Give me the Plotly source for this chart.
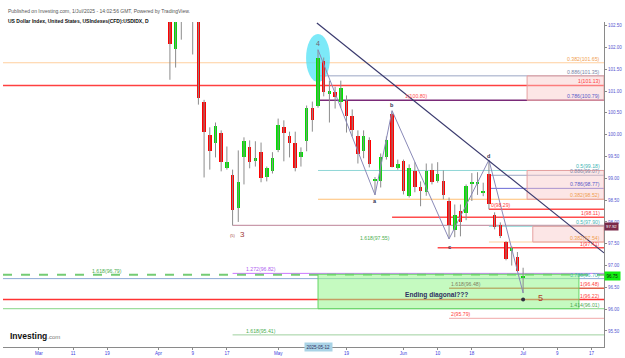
import pandas as pd
import plotly.graph_objects as go

# ---------------- data ----------------
dates = ["2025-04-03","2025-04-04","2025-04-07","2025-04-08","2025-04-09","2025-04-10","2025-04-11",
         "2025-04-14","2025-04-15","2025-04-16","2025-04-17","2025-04-21","2025-04-22","2025-04-23",
         "2025-04-24","2025-04-25","2025-04-28","2025-04-29","2025-04-30","2025-05-01","2025-05-02",
         "2025-05-05","2025-05-06","2025-05-07","2025-05-08","2025-05-09","2025-05-12","2025-05-13",
         "2025-05-14","2025-05-15","2025-05-16","2025-05-19","2025-05-20","2025-05-21","2025-05-22",
         "2025-05-23","2025-05-26","2025-05-27","2025-05-28","2025-05-29","2025-05-30","2025-06-02",
         "2025-06-03","2025-06-04","2025-06-05","2025-06-06","2025-06-09","2025-06-10","2025-06-11",
         "2025-06-12","2025-06-13","2025-06-16","2025-06-17","2025-06-18","2025-06-19","2025-06-20",
         "2025-06-23","2025-06-24","2025-06-25","2025-06-26","2025-06-27","2025-06-30","2025-07-01"]
opens  = [103.80,101.97,103.00,103.25,102.95,102.85,100.76,100.00,99.80,100.05,99.23,99.07,98.31,99.48,
          99.73,99.39,99.60,99.04,99.16,99.64,100.17,99.98,99.82,99.50,99.85,100.62,100.67,101.70,
          100.94,100.97,100.76,100.78,100.42,99.96,99.62,99.87,98.94,98.95,99.50,100.48,99.23,99.39,
          98.59,99.16,98.79,98.68,99.18,98.95,98.95,98.47,97.81,98.24,98.20,98.88,98.88,98.68,
          99.09,98.15,97.92,97.53,97.33,97.19,96.72]
highs  = [103.90,103.30,103.75,103.40,103.40,103.00,100.80,100.17,100.28,100.10,99.73,99.20,99.64,99.94,
          99.87,99.85,99.82,99.27,99.60,100.37,100.33,100.07,100.07,99.71,100.67,100.76,101.95,101.77,
          101.24,101.10,101.24,100.90,100.58,100.10,100.10,99.94,99.03,99.57,99.96,100.55,99.43,99.43,
          99.32,99.37,98.93,99.34,99.34,99.37,99.18,98.56,98.40,98.40,98.86,99.12,99.14,98.90,
          99.42,98.22,97.99,97.56,97.44,97.31,96.95]
lows   = [101.26,101.54,102.18,102.70,101.84,100.69,99.02,99.20,99.48,99.16,99.20,97.92,98.00,98.86,
          99.23,99.27,98.91,98.93,99.11,99.60,99.39,99.48,99.16,99.27,99.62,100.07,100.62,100.88,
          100.28,100.60,100.62,100.05,99.96,99.34,99.46,99.25,98.62,98.79,99.43,99.25,99.20,98.63,
          98.56,98.68,98.36,98.60,98.86,98.90,98.52,97.61,97.65,97.67,98.04,98.48,98.62,98.59,
          98.29,97.83,97.63,97.12,97.00,96.85,96.37]
closes = [102.07,103.00,103.25,102.95,102.85,100.85,100.07,99.62,100.21,99.37,99.37,98.27,98.91,99.85,
          99.37,99.46,99.00,99.23,99.46,100.23,100.03,99.82,99.23,99.60,100.62,100.33,101.77,100.99,
          101.01,100.87,101.08,100.42,100.10,99.55,99.96,99.32,98.99,99.50,99.87,99.27,99.32,98.70,
          99.23,98.79,98.72,99.16,98.92,99.09,98.61,97.92,98.17,97.99,98.82,98.89,98.91,98.70,
          98.40,97.88,97.67,97.14,97.40,96.87,96.76]

tick_dates = ["2025-03-03","2025-03-11","2025-03-19","2025-04-01","2025-04-09","2025-04-17","2025-05-01",
              "2025-05-12","2025-05-19","2025-06-02","2025-06-10","2025-06-18","2025-07-01","2025-07-09","2025-07-17"]
tick_labels = ["Mar","11","19","Apr","9","17","May","","19","Jun","10","18","Jul","9","17"]

price_ticks = [95.5,96.0,96.5,97.0,97.5,98.0,98.5,99.0,99.5,100.0,100.5,101.0,101.5,102.0,102.5]

# fib / level lines: (price, start date or None for full width, colour, width, dash)
levels = [
    (101.65, None,         "#ffcf9e", 1.2, "solid"),
    (101.35, "2025-05-12", "#9aa6c4", 1.0, "solid"),
    (101.13, None,         "#ff4040", 1.5, "solid"),
    (100.79, "2025-05-12", "#7a2a78", 1.5, "solid"),
    (99.18,  "2025-05-12", "#8fd6d6", 1.0, "solid"),
    (99.07,  "2025-06-23", "#9aa6c4", 1.0, "solid"),
    (98.77,  "2025-06-23", "#6a6ad6", 1.0, "solid"),
    (98.52,  "2025-05-12", "#ffbf73", 1.2, "solid"),
    (98.29,  "2025-06-23", "#ff4d4d", 1.5, "solid"),
    (98.11,  "2025-05-29", "#ff4d4d", 1.5, "solid"),
    (97.92,  "2025-04-21", "#c99aab", 1.2, "solid"),
    (97.90,  "2025-06-23", "#8fd6d6", 1.0, "solid"),
    (97.54,  "2025-06-23", "#ffcf9e", 1.2, "solid"),
    (97.41,  "2025-06-10", "#ff4d4d", 1.5, "solid"),
    (96.82,  "2025-04-21", "#cc77ff", 1.0, "solid"),
    (96.79,  None,         "#74cc74", 2.0, "dash"),
    (96.70,  None,         "#8eaad6", 1.0, "solid"),
    (96.48,  "2025-06-12", "#e0604a", 1.5, "solid"),
    (96.22,  None,         "#ff3333", 1.5, "solid"),
    (96.01,  None,         "#86d686", 1.0, "solid"),
    (95.79,  "2025-06-12", "#f0a8a8", 1.0, "solid"),
    (95.41,  "2025-04-21", "#9fd09f", 1.0, "solid"),
]
# right-edge labels: (price, text, colour)
right_labels = [
    (101.65, "0.382(101.65)", "#f0a050"), (101.35, "0.886(101.35)", "#7a86a6"),
    (101.13, "1(101.13)", "#ff4040"), (100.79, "0.786(100.79)", "#5a5ac8"),
    (99.18, "0.5(99.18)", "#3fb5b5"), (99.07, "0.886(99.07)", "#7a86a6"),
    (98.77, "0.786(98.77)", "#5a5ac8"), (98.52, "0.382(98.52)", "#f0a050"),
    (98.11, "1(98.11)", "#ff4040"), (97.90, "0.5(97.90)", "#3fb5b5"),
    (97.54, "0.382(97.54)", "#f0a050"), (97.41, "1(97.41)", "#ff4040"),
    (96.70, "0.786(96.70)", "#3fb5b5"), (96.48, "1(96.48)", "#ff4040"),
    (96.22, "1(96.22)", "#ff4040"), (96.01, "1.414(96.01)", "#50a850"),
]
# free labels: (date, price, text, colour, xanchor)
free_labels = [
    ("2025-06-02", 100.80, "1(100.80)", "#ff5050", "left"),
    ("2025-06-23", 98.29, "0(98.29)", "#ff4040", "left"),
    ("2025-05-21", 97.55, "1.618(97.55)", "#4caf50", "left"),
    ("2025-03-19", 96.79, "1.618(96.79)", "#4caf50", "center"),
    ("2025-04-28", 96.82, "1.272(96.82)", "#b060f0", "center"),
    ("2025-06-12", 96.48, "1.618(96.48)", "#808060", "left"),
    ("2025-06-12", 95.79, "2(95.79)", "#ff4040", "left"),
    ("2025-04-28", 95.41, "1.618(95.41)", "#4caf50", "center"),
]
# pink target boxes: (start date, low, high)
boxes = [("2025-07-02", 100.79, 101.35), ("2025-07-02", 98.52, 99.18), ("2025-07-03", 97.54, 97.90)]
green_box = ("2025-05-12", "2025-07-15", 96.01, 96.80)

wave_dates = ["2025-05-12","2025-05-26","2025-05-29","2025-06-12","2025-06-23","2025-07-01"]
wave_prices = [101.95, 98.62, 100.55, 97.61, 99.42, 96.37]
wave_names = ["4", "a", "b", "c", "d"]
trend_x = [48.8, 99.2]
trend_y = [102.56, 97.29]

# ---------------- helpers ----------------
days = [d for d in pd.bdate_range("2025-02-17", "2025-07-31") if d != pd.Timestamp("2025-04-18")]
origin = days.index(pd.Timestamp("2025-03-03"))
pos = {d.strftime("%Y-%m-%d"): i - origin for i, d in enumerate(days)}
def P(d):
    return pos[d]

XMIN, XMAX = -6.3, 99.2
YMIN, YMAX = 95.132, 102.585
FONT = "Liberation Sans, Arial, sans-serif"

xs = [P(d) for d in dates]
fig = go.Figure()

# wicks
wx, wy = [], []
for x, l, h in zip(xs, lows, highs):
    wx += [x, x, None]
    wy += [l, h, None]
fig.add_trace(go.Scatter(x=wx, y=wy, mode="lines", line=dict(color="#8c8c8c", width=1),
                         hoverinfo="skip"))
# bodies
base = [min(o, c) for o, c in zip(opens, closes)]
hgt = [max(abs(c - o), 0.025) for o, c in zip(opens, closes)]
cols = ["#00e000" if c >= o else "#ff0000" for o, c in zip(opens, closes)]
fig.add_trace(go.Bar(x=xs, y=hgt, base=base, width=0.62, marker=dict(color=cols, line=dict(width=0))))

shapes = []
for price, start, col, w, dash in levels:
    x0 = XMIN if start is None else P(start)
    shapes.append(dict(type="line", xref="x", yref="y", x0=x0, x1=XMAX, y0=price, y1=price,
                       line=dict(color=col, width=w, dash=dash), layer="below"))
for start, lo, hi in boxes:
    shapes.append(dict(type="rect", xref="x", yref="y", x0=P(start) - 0.3, x1=XMAX, y0=lo, y1=hi,
                       fillcolor="rgba(248,200,200,0.45)", line=dict(color="#e6a0a0", width=1),
                       layer="below"))
gs, ge, glo, ghi = green_box
shapes.append(dict(type="rect", xref="x", yref="y", x0=P(gs), x1=P(ge) - 0.2, y0=glo, y1=ghi,
                   fillcolor="rgba(150,245,140,0.55)", line=dict(color="#66d466", width=1),
                   layer="below"))
# wave 4 ellipse
shapes.append(dict(type="circle", xref="x", yref="y", x0=P("2025-05-12") - 2.1, x1=P("2025-05-12") + 2.1,
                   y0=101.21, y1=102.31, fillcolor="rgba(80,225,245,0.75)", line=dict(width=0),
                   layer="below"))
# trendline
shapes.append(dict(type="line", xref="x", yref="y", x0=trend_x[0], x1=trend_x[1], y0=trend_y[0],
                   y1=trend_y[1], line=dict(color="#3a3a6e", width=1.2), layer="above"))
fig.update_layout(shapes=shapes)

# wave path
fig.add_trace(go.Scatter(x=[P(d) for d in wave_dates], y=wave_prices, mode="lines",
                         line=dict(color="#8a8ab8", width=1), hoverinfo="skip"))
fig.add_trace(go.Scatter(x=[P("2025-07-01")], y=[96.22], mode="markers",
                         marker=dict(color="#303040", size=4), hoverinfo="skip"))

ann = []
for price, text, col in right_labels:
    ann.append(dict(x=XMAX - 0.3, y=price, xref="x", yref="y", text=text, showarrow=False,
                    xanchor="right", yanchor="bottom", yshift=-1, font=dict(size=5.2, color=col, family=FONT)))
for d, price, text, col, xa in free_labels:
    ann.append(dict(x=P(d), y=price, xref="x", yref="y", text=text, showarrow=False,
                    xanchor=xa, yanchor="bottom", yshift=-1, font=dict(size=5.2, color=col, family=FONT)))
# wave labels
offs = [0.14, -0.14, 0.13, -0.18, 0.09]
for name, d, p, o in zip(wave_names, wave_dates, wave_prices, offs):
    col = "#706070" if name == "4" else "#303050"
    ann.append(dict(x=P(d), y=p + o, xref="x", yref="y", text=("<b>%s</b>" % name) if name != "4" else name,
                    showarrow=False, font=dict(size=7 if name == "4" else 5.5, color=col, family=FONT)))
ann.append(dict(x=P("2025-07-01") + 3, y=96.26, xref="x", yref="y", text="5", showarrow=False,
                font=dict(size=9, color="#b03a2e", family=FONT)))
ann.append(dict(x=P("2025-04-23") - 0.2, y=97.72, xref="x", yref="y", text="3", showarrow=False,
                font=dict(size=8, color="#a03838", family=FONT)))
ann.append(dict(x=P("2025-04-21") + 0.1, y=97.70, xref="x", yref="y", text="(5)", showarrow=False,
                font=dict(size=4, color="#a03838", family=FONT)))
ann.append(dict(x=P("2025-05-29") + 2, y=96.33, xref="x", yref="y", text="<b>Ending diagonal???</b>",
                showarrow=False, xanchor="left", font=dict(size=6.6, color="#2e2e60", family=FONT)))
# price boxes on the axis
ann.append(dict(x=1.0, y=97.92, xref="paper", yref="y", text="97.92", showarrow=False, xanchor="left",
                yanchor="top", yshift=3.5,
                bgcolor="#7a2848", font=dict(size=4.3, color="white", family=FONT), borderpad=1))
ann.append(dict(x=1.0, y=96.75, xref="paper", yref="y", text="96.75", showarrow=False, xanchor="left",
                bgcolor="#10ee10", font=dict(size=4.5, color="#102010", family=FONT), borderpad=1.5))
# highlighted date
ann.append(dict(x=P("2025-05-12"), y=-0.016, xref="x", yref="paper", text="2025-05-12", showarrow=False,
                bgcolor="#a9d3e6", font=dict(size=4.5, color="#303060", family=FONT), borderpad=1.5))
# header
ann.append(dict(x=0.005, y=1.049, xref="paper", yref="paper", xanchor="left", showarrow=False,
                text="Published on Investing.com, 1/Jul/2025 - 14:02:56 GMT, Powered by TradingView.",
                font=dict(size=5, color="#555", family=FONT)))
ann.append(dict(x=0.005, y=1.018, xref="paper", yref="paper", xanchor="left", showarrow=False,
                text="<b>US Dollar Index, United States, USIndexes(CFD):USDIDX, D</b>",
                font=dict(size=5, color="#111", family=FONT)))
ann.append(dict(x=0.008, y=0.012, xref="paper", yref="paper", xanchor="left", showarrow=False,
                text="<b>Investing</b><span style='color:#777;font-size:6px'>.com</span>",
                font=dict(size=8.5, color="#111", family=FONT)))

fig.update_layout(
    annotations=ann, width=625, height=358, showlegend=False,
    margin=dict(l=3, r=21, t=22, b=11), plot_bgcolor="white", paper_bgcolor="white",
    xaxis=dict(range=[XMIN, XMAX], tickvals=[P(d) for d in tick_dates], ticktext=tick_labels,
               showgrid=False, zeroline=False, showline=True, linecolor="#8a8a8a", ticks="outside",
               ticklen=2, tickcolor="#8a8a8a", tickfont=dict(size=4.5, color="#3c3cdc", family=FONT)),
    yaxis=dict(range=[YMIN, YMAX], side="right", tickvals=price_ticks,
               ticktext=["%.2f" % v for v in price_ticks], showgrid=False, zeroline=False,
               showline=True, linecolor="#8a8a8a", ticks="outside", ticklen=2, tickcolor="#8a8a8a",
               tickfont=dict(size=4.5, color="#5555d0", family=FONT)),
    bargap=0,
)
fig.write_html("out.html")
